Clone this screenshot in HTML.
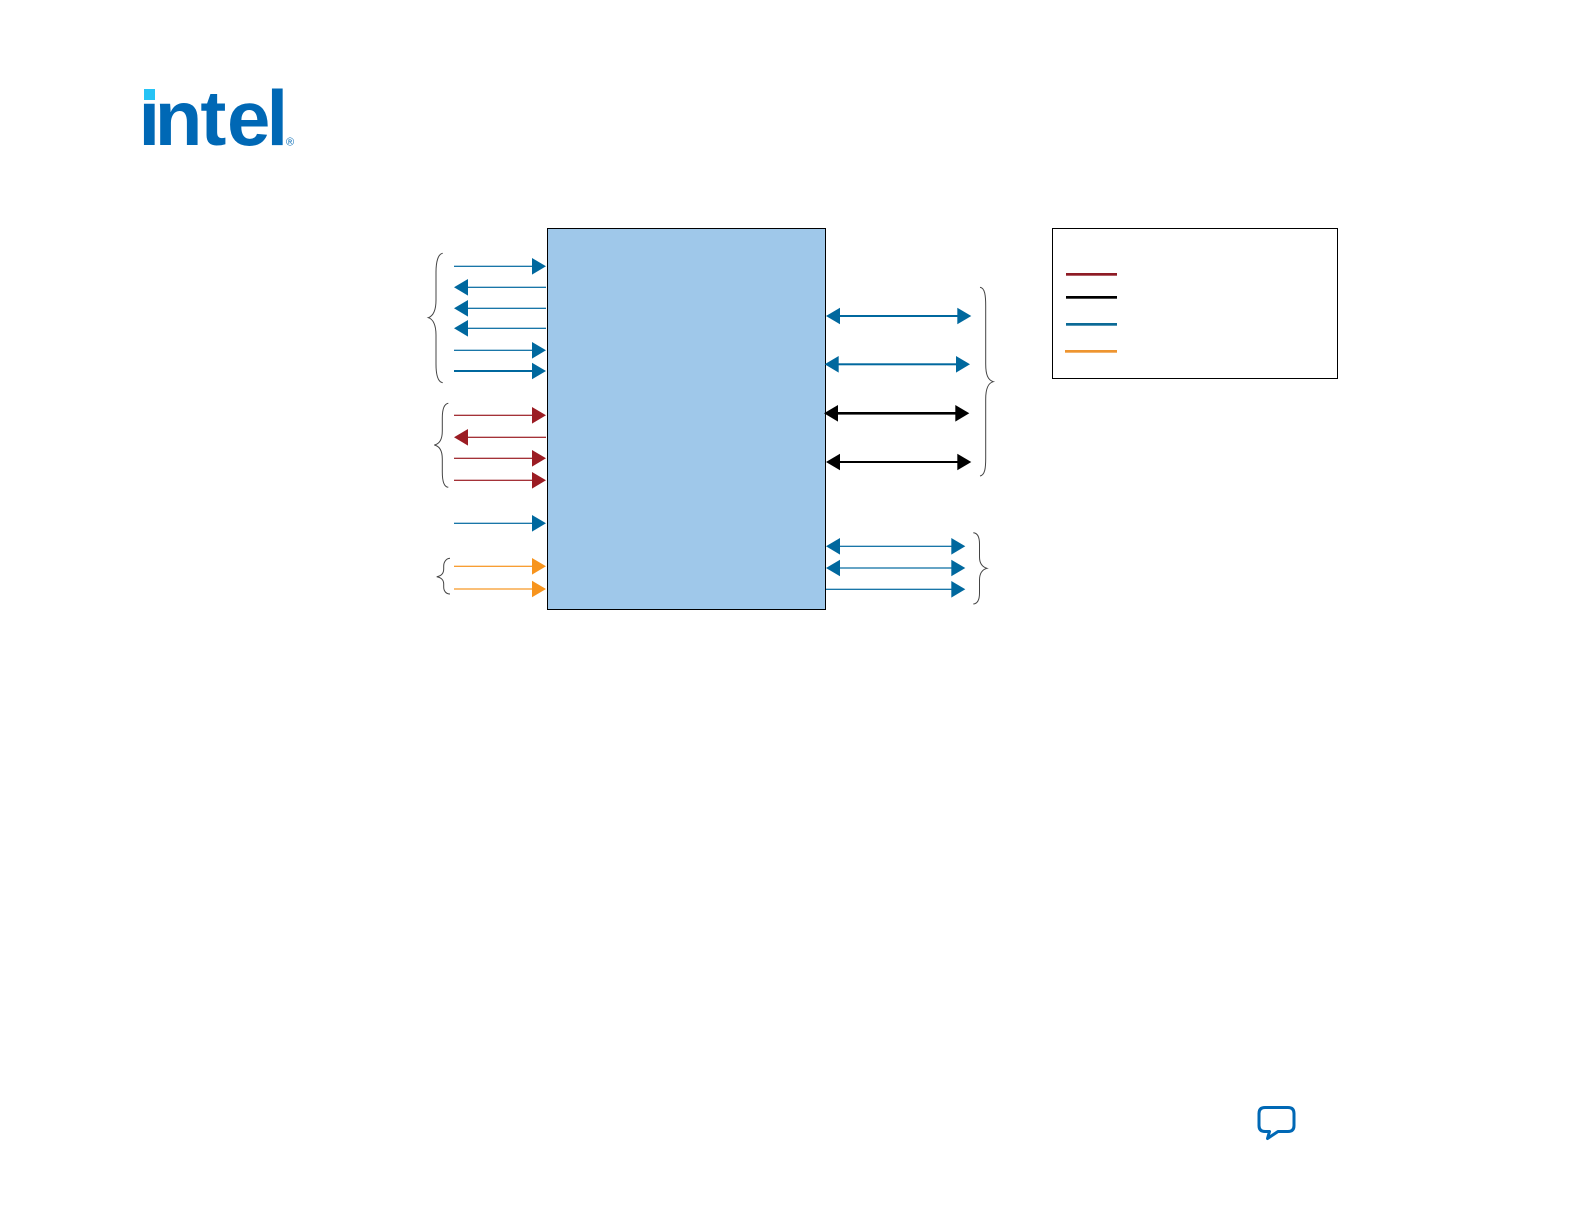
<!DOCTYPE html>
<html>
<head>
<meta charset="utf-8">
<style>
html,body{margin:0;padding:0;background:#fff;}
svg{display:block;}
</style>
</head>
<body>
<svg width="1584" height="1224" viewBox="0 0 1584 1224" xmlns="http://www.w3.org/2000/svg">
<rect width="1584" height="1224" fill="#fff"/>
<!-- logo -->
<text x="138.5 154.8 200.4 227 266.5" y="145" font-family="'Liberation Sans',sans-serif" font-weight="bold" font-size="78" fill="#0068b5">intel</text>
<rect x="142" y="84" width="16" height="19" fill="#fff"/>
<rect x="144" y="89" width="11" height="11" fill="#26c3f5"/>
<text x="286" y="145.3" font-family="'Liberation Sans',sans-serif" font-size="11" fill="#0068b5">®</text>
<!-- main box -->
<rect x="547.5" y="228.5" width="278" height="381" fill="#9fc8ea" stroke="#000" stroke-width="1"/>
<!-- legend -->
<rect x="1052.5" y="228.5" width="285" height="150" fill="#fff" stroke="#000" stroke-width="1"/>
<rect x="1066" y="273" width="51" height="2.7" fill="#8e1b25"/>
<rect x="1066" y="296" width="51" height="2.7" fill="#000"/>
<rect x="1066" y="323" width="51" height="2.7" fill="#0b6a96"/>
<rect x="1065" y="350" width="52" height="2.7" fill="#ee9530"/>
<!-- left blue -->
<g fill="#00689e" stroke="none">
<rect x="454" y="265.7" width="80" height="1.2"/><polygon points="532,258 546,266.3 532,274.6"/>
<rect x="468" y="286.7" width="78" height="1.2"/><polygon points="468,279 454,287.3 468,295.6"/>
<rect x="468" y="307.7" width="78" height="1.2"/><polygon points="468,300 454,308.3 468,316.6"/>
<rect x="468" y="327.7" width="78" height="1.2"/><polygon points="468,320 454,328.3 468,336.6"/>
<rect x="454" y="349.7" width="80" height="1.2"/><polygon points="532,342 546,350.3 532,358.6"/>
<rect x="454" y="370" width="80" height="2"/><polygon points="532,362.7 546,371 532,379.3"/>
<rect x="454" y="522.7" width="80" height="1.2"/><polygon points="532,515 546,523.3 532,531.6"/>
</g>
<!-- left red -->
<g fill="#9b1c23" stroke="none">
<rect x="454" y="414.7" width="80" height="1.2"/><polygon points="532,407 546,415.3 532,423.6"/>
<rect x="468" y="436.7" width="78" height="1.2"/><polygon points="468,429 454,437.3 468,445.6"/>
<rect x="454" y="457.7" width="80" height="1.2"/><polygon points="532,450 546,458.3 532,466.6"/>
<rect x="454" y="479.7" width="80" height="1.2"/><polygon points="532,472 546,480.3 532,488.6"/>
</g>
<!-- left orange -->
<g fill="#f7941d" stroke="none">
<rect x="454" y="565.7" width="80" height="1.2"/><polygon points="532,558 546,566.3 532,574.6"/>
<rect x="454" y="588.4" width="80" height="1.2"/><polygon points="532,580.7 546,589 532,597.3"/>
</g>
<!-- right blue -->
<g fill="#00689e" stroke="none">
<rect x="838" y="315" width="121" height="2"/><polygon points="840,307.7 826,316 840,324.3"/><polygon points="957.3,307.7 971.3,316 957.3,324.3"/>
<rect x="837" y="363.3" width="121" height="2"/><polygon points="838.7,356 824.7,364.3 838.7,372.6"/><polygon points="956,356 970,364.3 956,372.6"/>
<rect x="838" y="545.7" width="115" height="1.2"/><polygon points="840,538 826,546.3 840,554.6"/><polygon points="951.3,538 965.3,546.3 951.3,554.6"/>
<rect x="838" y="567.4" width="115" height="1.2"/><polygon points="840,559.7 826,568 840,576.3"/><polygon points="951.3,559.7 965.3,568 951.3,576.3"/>
<rect x="826" y="588.7" width="127" height="1.2"/><polygon points="951.3,581 965.3,589.3 951.3,597.6"/>
</g>
<!-- right black -->
<g fill="#000" stroke="none">
<rect x="836" y="412" width="121" height="2.6"/><polygon points="838,405 824,413.3 838,421.6"/><polygon points="955.3,405 969.3,413.3 955.3,421.6"/>
<rect x="838" y="461" width="121" height="2"/><polygon points="840,453.7 826,462 840,470.3"/><polygon points="957.3,453.7 971.3,462 957.3,470.3"/>
</g>
<!-- braces -->
<g fill="none" stroke="#444" stroke-width="1">
<path d="M442.7,253.3 C438,254 436,262 436,272 L436,300 C436,311 433,316 428.3,317.7 C433,319 436,325 436,335 L436,364 C436,375 438,382 442.7,382.7"/>
<path d="M448.3,403.3 C444,404 442.3,410 442.3,418 L442.3,431 C442.3,440 439,444 434.3,445 C439,446 442.3,450 442.3,459 L442.3,472 C442.3,481 444,487 448.3,487.3"/>
<path d="M450,558.3 C446,558.6 443.7,562 443.7,566 L443.7,569 C443.7,574 441,576 436.7,576.7 C441,577.4 443.7,580 443.7,584 L443.7,587 C443.7,591 446,594 450,594"/>
<path d="M980,287.3 C985,288 985.7,296 985.7,306 L985.7,364 C985.7,375 988,380 993.3,381.7 C988,383 985.7,389 985.7,399 L985.7,458 C985.7,468 985,475 980,476"/>
<path d="M973.3,532.7 C978,533 979.5,538 979.5,544 L979.5,557 C979.5,564 982.5,567 987,568.3 C982.5,569.5 979.5,573 979.5,580 L979.5,593 C979.5,599 978,603.6 973.3,604"/>
</g>
<!-- chat icon -->
<path d="M1265,1107.5 H1288 Q1294,1107.5 1294,1113.5 V1125.5 Q1294,1131.5 1288,1131.5 H1278 L1267.5,1138.5 L1269.5,1131.5 H1265 Q1259,1131.5 1259,1125.5 V1113.5 Q1259,1107.5 1265,1107.5 Z" fill="#fff" stroke="#0068b5" stroke-width="3" stroke-linejoin="round"/>
</svg>
</body>
</html>
